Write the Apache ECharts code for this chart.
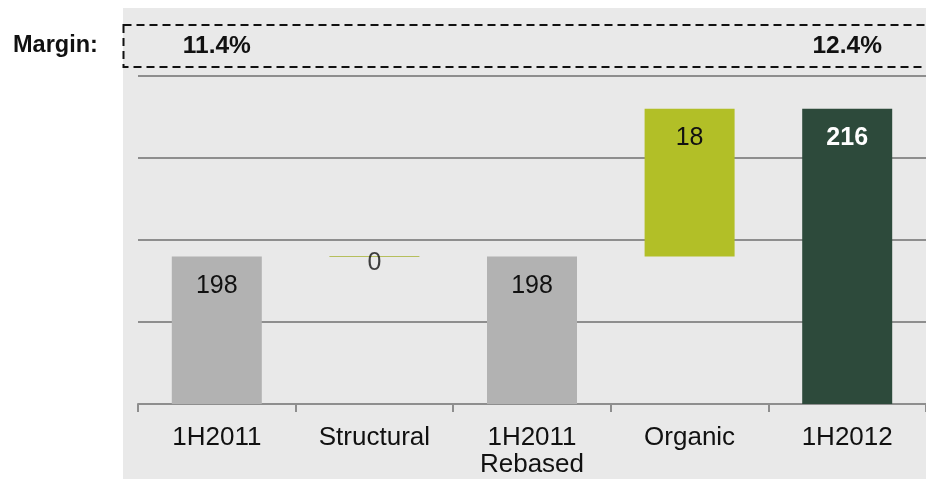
<!DOCTYPE html>
<html>
<head>
<meta charset="utf-8">
<script src="https://cdn.jsdelivr.net/npm/echarts@6/dist/echarts.min.js"></script>
<style>
  html, body { margin: 0; padding: 0; background: #fff; }
  #chart { width: 926px; height: 479px; }
</style>
</head>
<body>
<div id="chart"></div>
<script>
var categories = ['1H2011', 'Structural', '1H2011\nRebased', 'Organic', '1H2012'];
var values = [198, 0, 198, 18, 216];
var kinds = ['total', 'delta', 'total', 'delta', 'total'];
var margins = ['11.4%', '', '', '', '12.4%'];
var barColors = ['#b2b2b2', '#a9b43a', '#b2b2b2', '#b2bf27', '#2d4a3b'];

var FONT = '"Liberation Sans", Arial, sans-serif';

// waterfall: transparent base + visible part
var baseData = [], showData = [], zeroLine = [];
var running = 0;
for (var i = 0; i < values.length; i++) {
    if (kinds[i] === 'total') {
        baseData.push(0);
        running = values[i];
        showData.push({
            value: values[i],
            itemStyle: { color: barColors[i] },
            label: i === 4 ? { color: '#fff', fontWeight: 'bold' } : {}
        });
    } else {
        baseData.push(running);
        if (values[i] === 0) {
            showData.push({ value: 0, label: { show: false } });
            zeroLine.push([i, running]);
        } else {
            showData.push({ value: values[i], itemStyle: { color: barColors[i] } });
        }
        running += values[i];
    }
}

var dom = document.getElementById('chart');
var myChart = echarts.init(dom);
option = {
    backgroundColor: '#fff',
    animation: false,
    textStyle: { fontFamily: FONT },
    graphic: [
        {
            type: 'rect', z: -10, silent: true,
            shape: { x: 123, y: 8, width: 803, height: 471 },
            style: { fill: '#e9e9e9' }
        },
        {
            type: 'rect', z: 100, silent: true,
            shape: { x: 123.5, y: 25, width: 820, height: 42 },
            style: { fill: null, stroke: '#111', lineWidth: 2, lineDash: [8, 5] }
        },
        {
            type: 'text', left: 13, top: 34,
            style: { text: 'Margin:', font: 'bold 23.5px ' + FONT, fill: '#111' }
        }
    ],
    grid: {
        left: 138,
        right: 0,
        top: 76,
        bottom: 75
    },
    xAxis: [
        {
            type: 'category',
            data: categories,
            axisLine: { lineStyle: { color: '#8e8e8e', width: 2 } },
            axisTick: { show: true, length: 8, lineStyle: { color: '#8e8e8e', width: 2 } },
            axisLabel: { color: '#111', fontSize: 26, lineHeight: 27, margin: 20, fontFamily: FONT }
        },
        {
            type: 'category',
            position: 'top',
            data: margins,
            axisLine: { show: false },
            axisTick: { show: false },
            axisLabel: { color: '#111', fontSize: 24.5, fontWeight: 'bold', margin: 17, fontFamily: FONT }
        }
    ],
    yAxis: {
        type: 'value',
        min: 180,
        max: 220,
        interval: 10,
        axisLabel: { show: false },
        axisLine: { show: false },
        axisTick: { show: false },
        splitLine: { lineStyle: { color: '#8e8e8e', width: 2 } }
    },
    series: [
        {
            name: 'base',
            type: 'bar',
            stack: 'w',
            barWidth: 90,
            itemStyle: { color: 'transparent' },
            data: baseData
        },
        {
            name: 'value',
            type: 'bar',
            stack: 'w',
            barWidth: 90,
            label: {
                show: true,
                position: 'insideTop',
                distance: 17,
                color: '#111',
                fontSize: 25,
                fontFamily: FONT
            },
            data: showData
        },
        {
            name: 'zero',
            type: 'scatter',
            symbol: 'rect',
            symbolSize: [90, 1],
            itemStyle: { color: barColors[1] },
            label: {
                show: true,
                position: 'inside',
                offset: [0, 7],
                formatter: function () { return '0'; },
                color: '#111',
                fontSize: 25,
                fontFamily: FONT
            },
            data: zeroLine
        }
    ]
};
myChart.setOption(option);
</script>
</body>
</html>
